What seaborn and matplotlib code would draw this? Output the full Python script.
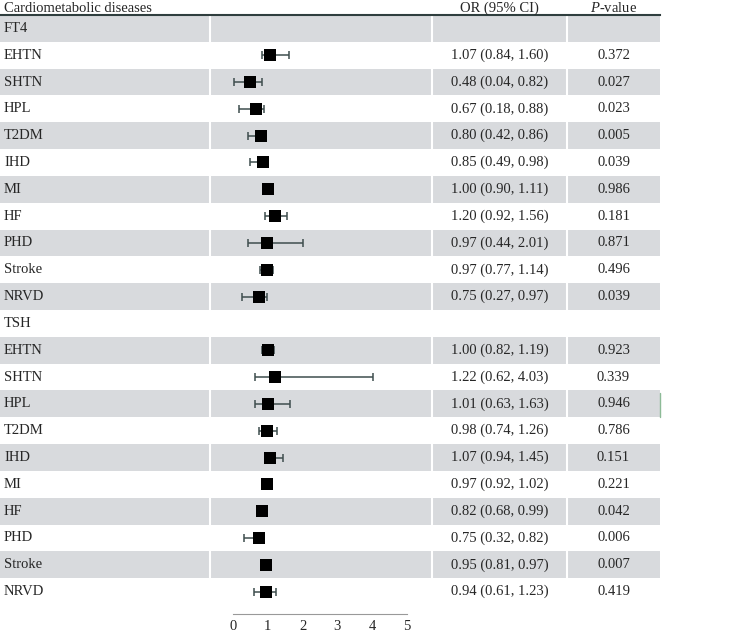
import pandas as pd
import seaborn as sns
from matplotlib import pyplot as plt

# rows of the table, top to bottom (group header rows have no values)
labels = ['FT4', 'EHTN', 'SHTN', 'HPL', 'T2DM', 'IHD', 'MI', 'HF', 'PHD', 'Stroke', 'NRVD',
          'TSH', 'EHTN', 'SHTN', 'HPL', 'T2DM', 'IHD', 'MI', 'HF', 'PHD', 'Stroke', 'NRVD']
odds = [None, 1.07, 0.48, 0.67, 0.80, 0.85, 1.00, 1.20, 0.97, 0.97, 0.75,
        None, 1.00, 1.22, 1.01, 0.98, 1.07, 0.97, 0.82, 0.75, 0.95, 0.94]
ci_low = [None, 0.84, 0.04, 0.18, 0.42, 0.49, 0.90, 0.92, 0.44, 0.77, 0.27,
          None, 0.82, 0.62, 0.63, 0.74, 0.94, 0.92, 0.68, 0.32, 0.81, 0.61]
ci_high = [None, 1.60, 0.82, 0.88, 0.86, 0.98, 1.11, 1.56, 2.01, 1.14, 0.97,
           None, 1.19, 4.03, 1.63, 1.26, 1.45, 1.02, 0.99, 0.82, 0.97, 1.23]
p_values = ['', '0.372', '0.027', '0.023', '0.005', '0.039', '0.986', '0.181', '0.871', '0.496', '0.039',
            '', '0.923', '0.339', '0.946', '0.786', '0.151', '0.221', '0.042', '0.006', '0.007', '0.419']
x_ticks = [0, 1, 2, 3, 4, 5]

GRAY = '#d8dadd'
BAR = '#3f4e4e'
HEAD = '#2f3e3e'

sns.set_theme(style='white')
plt.rcParams['font.family'] = ['Liberation Serif', 'DejaVu Serif']
plt.rcParams['mathtext.fontset'] = 'custom'
plt.rcParams['mathtext.rm'] = 'Liberation Serif'
plt.rcParams['mathtext.it'] = 'Liberation Serif:italic'

df = pd.DataFrame({'label': labels, 'or_': odds, 'lo': ci_low, 'hi': ci_high, 'p': p_values})
df['row'] = range(len(df))
pts = df.dropna(subset=['or_']).copy()

fig = plt.figure(figsize=(7.56, 6.39), dpi=100)
W, H = 756, 639
ax = fig.add_axes([0, (H - 605) / H, 660 / W, 590 / H])

# zebra rows and white column dividers
for i in range(0, len(df), 2):
    ax.axhspan(i - 0.5, i + 0.5, color=GRAY, lw=0, zorder=0)
for xf in [210 / 660, 432 / 660, 567 / 660]:
    ax.plot([xf, xf], [-0.5, len(df) - 0.5], transform=ax.get_yaxis_transform(),
            color='white', lw=1.5, zorder=1)
# thin green edge mark seen on the right of one row
ax.plot([1.0, 1.0], [13.6, 14.5], transform=ax.get_yaxis_transform(), color='#8dbb97',
        lw=1, zorder=1, clip_on=False)

ax.errorbar(pts['or_'], pts['row'], xerr=[pts['or_'] - pts['lo'], pts['hi'] - pts['or_']],
            fmt='none', ecolor=BAR, elinewidth=1.1, capsize=3.2, capthick=1.1, zorder=2)
sns.scatterplot(data=pts, x='or_', y='row', marker='s', color='black', s=80,
                edgecolor='black', linewidth=0, legend=False, ax=ax, zorder=3)

# table text
tr = ax.get_yaxis_transform()
for _, r in df.iterrows():
    ax.text(4 / 660, r['row'], r['label'], transform=tr, ha='left', va='center', fontsize=10.5)
    if pd.notna(r['or_']):
        ax.text(499.5 / 660, r['row'], f"{r['or_']:.2f} ({r['lo']:.2f}, {r['hi']:.2f})",
                transform=tr, ha='center', va='center', fontsize=10.5)
        ax.text(613.5 / 660, r['row'], r['p'], transform=tr, ha='center', va='center', fontsize=10.5)

ax.text(4 / 660, -0.75, 'Cardiometabolic diseases', transform=tr, ha='left', va='center',
        fontsize=10.5, clip_on=False)
ax.text(499.5 / 660, -0.75, 'OR (95% CI)', transform=tr, ha='center', va='center',
        fontsize=10.5, clip_on=False)
ax.text(613.5 / 660, -0.75, '$\\mathit{P}$-value', transform=tr, ha='center', va='center',
        fontsize=10.5, clip_on=False)

# 0 -> 233 px, 5 -> 407 px
unit = (407 - 233) / 5
ax.set_xlim(-233 / unit, (660 - 233) / unit)
ax.set_ylim(len(df) - 0.5, -0.5)
ax.set_xlabel('')
ax.set_ylabel('')
ax.set_yticks([])
ax.set_xticks(x_ticks)
ax.tick_params(axis='x', direction='in', length=3, width=0.8, color='#999999',
               labelsize=10.5, pad=4)
for side in ['left', 'right']:
    ax.spines[side].set_visible(False)
ax.spines['top'].set_color(HEAD)
ax.spines['top'].set_linewidth(1.5)
ax.spines['bottom'].set_position(('outward', 6.5))
ax.spines['bottom'].set_bounds(0, 5)
ax.spines['bottom'].set_color('#999999')
ax.spines['bottom'].set_linewidth(0.8)

fig.savefig('out.png', dpi=100)
